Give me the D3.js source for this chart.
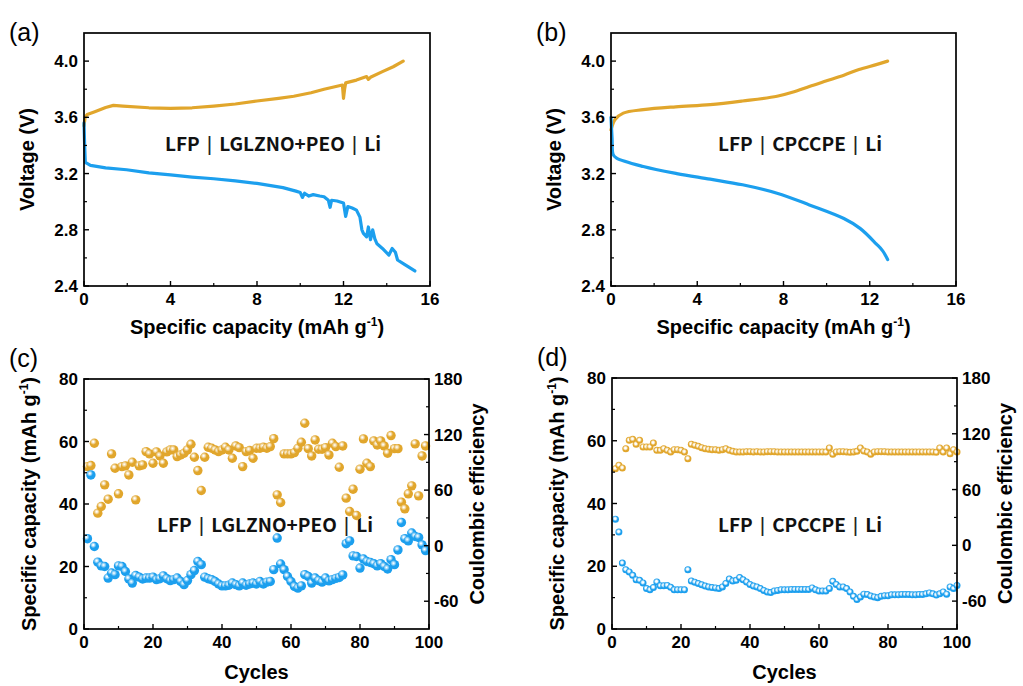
<!DOCTYPE html>
<html><head><meta charset="utf-8">
<script src="https://cdn.jsdelivr.net/npm/d3@7"></script>
<style>
body{margin:0;background:#fff;}
svg text{font-family:"Liberation Sans",Arial,sans-serif;}
</style>
</head><body>
<svg id="chart" width="1023" height="686"></svg>
<script>
// ---------- DATA ----------
// (a) LFP | LGLZNO+PEO | Li  voltage profiles [capacity, voltage]
const aCharge = [[0,3.54],[0.05,3.60],[0.15,3.62],[0.5,3.64],[1.0,3.67],[1.36,3.685],[1.8,3.68],[3.0,3.668],[4.0,3.664],[5.0,3.668],[6.0,3.68],[7.0,3.695],[8.0,3.716],[9.0,3.735],[9.7,3.75],[10.5,3.775],[11.1,3.80],[11.8,3.825],[11.95,3.83],[12.0,3.735],[12.05,3.80],[12.1,3.845],[12.6,3.865],[13.07,3.89],[13.15,3.87],[13.25,3.885],[13.8,3.925],[14.3,3.96],[14.76,4.0]];
const aDischarge = [[0,3.56],[0.03,3.40],[0.06,3.28],[0.3,3.258],[1.0,3.24],[1.97,3.227],[3.0,3.205],[4.0,3.19],[5.0,3.175],[6.0,3.163],[7.0,3.148],[8.0,3.13],[9.2,3.10],[9.8,3.075],[10.0,3.065],[10.1,3.03],[10.2,3.06],[10.4,3.04],[10.6,3.05],[10.9,3.04],[11.1,3.035],[11.3,3.01],[11.38,2.96],[11.45,3.01],[11.7,3.005],[12.0,2.99],[12.1,2.895],[12.2,2.965],[12.4,2.955],[12.6,2.94],[12.76,2.89],[12.85,2.80],[12.92,2.775],[13.07,2.75],[13.15,2.82],[13.25,2.73],[13.35,2.80],[13.45,2.735],[13.55,2.70],[13.8,2.667],[14.1,2.62],[14.25,2.667],[14.4,2.64],[14.5,2.585],[14.8,2.555],[15.3,2.507]];
// (b) LFP | CPCCPE | Li
const bCharge = [[0,3.51],[0.19,3.585],[0.57,3.63],[1.5,3.655],[3.0,3.675],[4.6,3.69],[6.1,3.716],[7.7,3.75],[8.45,3.78],[9.2,3.82],[10.0,3.86],[10.8,3.90],[11.5,3.94],[12.3,3.975],[12.83,4.0]];
const bDischarge = [[0,3.60],[0.05,3.45],[0.1,3.335],[0.26,3.31],[1.5,3.25],[3.05,3.20],[4.6,3.16],[6.1,3.12],[7.7,3.06],[9.2,2.977],[10.8,2.88],[11.55,2.81],[12.3,2.70],[12.6,2.65],[12.83,2.588]];

// (c) cycling, LGLZNO+PEO
const cCycles = d3.range(1,100);
const cCapacity = [28.9,49.3,26.4,21.4,20.2,20.0,16.3,17.9,17.4,20.2,20.0,18.4,16.0,14.7,17.1,16.6,16.0,16.3,16.3,16.6,15.8,16.1,17.0,16.1,15.5,15.8,16.3,15.2,14.2,15.5,17.4,18.7,21.6,20.6,16.6,16.1,15.8,15.2,14.4,13.8,13.8,14.0,14.7,14.2,13.8,14.7,14.0,14.4,14.7,14.4,15.2,14.4,15.0,15.2,19.0,29.1,20.8,19.0,16.8,15.2,13.6,13.1,13.8,17.4,16.8,14.7,16.3,15.5,15.0,16.3,15.4,15.8,16.2,16.5,17.3,27.3,28.2,23.4,23.2,19.5,22.4,21.6,21.3,20.9,20.2,20.9,20.0,19.2,22.2,20.6,25.3,34.1,28.9,28.2,30.7,29.6,29.3,26.9,25.1];
const cEfficiency = [85.4,86.5,110.6,35.1,42.3,65.7,50.2,99.1,83.6,56.0,85.4,86.2,76.4,90.1,49.5,86.2,87.2,101.6,99.1,89.0,101.3,96.9,89.0,101.3,103.4,103.4,96.2,98.0,99.8,103.4,109.5,95.5,81.1,59.6,95.5,106.3,105.2,103.4,101.6,103.4,106.3,103.4,94.4,107.7,105.9,85.4,101.6,102.7,94.4,105.2,105.2,106.3,105.2,107.0,115.6,54.9,46.6,99.1,99.1,99.1,100.5,105.2,111.7,132.2,104.8,96.9,114.2,104.1,104.1,105.9,98.0,110.6,107.0,84.7,107.7,51.3,36.9,61.0,32.6,82.6,115.3,89.0,85.4,113.1,108.8,113.1,107.7,99.8,118.9,104.8,104.8,47.0,39.8,56.0,64.6,109.9,53.8,96.9,107.7];

// (d) cycling, CPCCPE
const dCycles = d3.range(1,101);
const dCapacity = [35.0,30.9,21.0,18.9,18.2,17.1,15.7,15.5,14.7,12.9,12.5,13.2,15.0,13.8,13.8,13.9,13.3,12.5,12.5,12.5,12.5,18.9,15.3,14.9,14.5,14.1,13.7,13.4,13.2,13.1,12.9,13.4,14.5,15.9,15.3,15.5,16.4,15.7,15.0,14.2,13.7,13.4,12.9,12.3,11.8,11.6,12.1,12.3,12.5,12.5,12.5,12.6,12.6,12.6,12.6,12.6,12.6,13.1,12.5,12.1,12.1,12.1,12.9,15.2,14.2,13.4,13.4,12.9,11.8,10.4,9.4,10.2,11.1,11.0,10.5,10.2,10.0,10.4,10.6,10.6,10.9,10.9,10.9,11.0,11.0,11.0,10.9,10.9,11.0,11.0,11.2,11.5,11.2,10.8,11.2,11.8,11.1,13.4,12.9,13.9];
const dEfficiency = [82.5,86.1,83.2,104.0,113.0,114.0,108.7,113.0,105.8,105.8,105.8,110.0,102.2,102.2,104.0,102.2,100.4,102.9,102.9,102.2,100.4,93.2,108.7,107.6,106.5,105.1,104.0,103.3,102.9,102.9,102.2,102.9,104.0,102.2,101.1,100.4,100.4,100.4,100.8,100.8,100.4,100.8,100.4,100.4,100.8,100.8,100.8,100.4,100.4,100.4,100.4,100.4,100.4,100.4,100.4,100.4,100.4,100.4,100.4,100.4,100.4,100.4,104.7,98.0,100.4,100.8,100.8,100.4,100.0,100.4,101.1,104.7,101.5,100.4,98.0,100.4,100.8,100.8,100.8,100.4,100.4,100.4,100.4,100.4,100.4,100.4,100.4,100.4,100.4,100.4,100.4,100.4,100.4,100.0,104.7,100.4,104.7,98.5,102.9,100.4];

const voltTicks = [2.4,2.8,3.2,3.6,4.0];
const capTicks = [0,4,8,12,16];
const cycleTicks = [0,20,40,60,80,100];
const capLeftTicks = [0,20,40,60,80];
const ceTicks = [-60,0,60,120,180];

const ORANGE = "#E1A62C";
const BLUE = "#1C9FEE";

// ---------- DRAW ----------
const svg = d3.select("#chart");
const defs = svg.append("defs");
function grad(id, col, cx, cy, s1, s2){
  const g = defs.append("radialGradient").attr("id", id).attr("cx",cx).attr("cy",cy).attr("r","60%");
  g.append("stop").attr("offset","0%").attr("stop-color","#fff");
  g.append("stop").attr("offset", s1).attr("stop-color","#fff").attr("stop-opacity",0.9);
  g.append("stop").attr("offset", s2).attr("stop-color", col);
  g.append("stop").attr("offset","100%").attr("stop-color", col);
}
grad("gO1", ORANGE, "38%", "34%", "8%", "55%"); grad("gB1", BLUE, "38%", "34%", "8%", "55%");
grad("gO2", ORANGE, "45%", "42%", "22%", "62%"); grad("gB2", BLUE, "45%", "42%", "22%", "62%");

const TICKFS = 17, TITLEFS = 20;

function frame(g, L, R, T, B){
  g.append("rect").attr("x",L).attr("y",T).attr("width",R-L).attr("height",B-T)
    .attr("fill","none").attr("stroke","#000").attr("stroke-width",1.7);
}
function xAxis(g, x, B, ticks, minors){
  ticks.forEach(t=>{
    g.append("line").attr("x1",x(t)).attr("x2",x(t)).attr("y1",B).attr("y2",B-5).attr("stroke","#000").attr("stroke-width",1.4);
    g.append("text").attr("x",x(t)).attr("y",B+19).attr("text-anchor","middle")
      .attr("font-size",TICKFS).attr("font-weight","bold").text(d3.format("~g")(t));
  });
  minors.forEach(t=>{
    g.append("line").attr("x1",x(t)).attr("x2",x(t)).attr("y1",B).attr("y2",B-3).attr("stroke","#000").attr("stroke-width",1.2);
  });
}
function yAxisLeft(g, y, L, ticks, minors, fmt){
  ticks.forEach(t=>{
    g.append("line").attr("x1",L).attr("x2",L+5).attr("y1",y(t)).attr("y2",y(t)).attr("stroke","#000").attr("stroke-width",1.4);
    g.append("text").attr("x",L-6).attr("y",y(t)+6).attr("text-anchor","end")
      .attr("font-size",TICKFS).attr("font-weight","bold").text(fmt(t));
  });
  minors.forEach(t=>{
    g.append("line").attr("x1",L).attr("x2",L+3).attr("y1",y(t)).attr("y2",y(t)).attr("stroke","#000").attr("stroke-width",1.2);
  });
}
function yAxisRight(g, y, R, ticks, minors){
  ticks.forEach(t=>{
    g.append("line").attr("x1",R).attr("x2",R-5).attr("y1",y(t)).attr("y2",y(t)).attr("stroke","#000").attr("stroke-width",1.4);
    g.append("text").attr("x",R+5).attr("y",y(t)+6).attr("text-anchor","start")
      .attr("font-size",TICKFS).attr("font-weight","bold").text(t);
  });
  minors.forEach(t=>{
    g.append("line").attr("x1",R).attr("x2",R-3).attr("y1",y(t)).attr("y2",y(t)).attr("stroke","#000").attr("stroke-width",1.2);
  });
}
function capTitle(t){
  t.append("tspan").text("Specific capacity (mAh g");
  t.append("tspan").attr("dy",-8).attr("font-size",12).text("-1");
  t.append("tspan").attr("dy",8).text(")");
}
function capTitleX(g, cx, yb){
  capTitle(g.append("text").attr("x",cx).attr("y",yb).attr("text-anchor","middle")
    .attr("font-size",TITLEFS).attr("font-weight","bold"));
}
function capTitleY(g, cx, cy){
  capTitle(g.append("text").attr("transform",`translate(${cx},${cy}) rotate(-90)`).attr("text-anchor","middle")
    .attr("font-size",TITLEFS).attr("font-weight","bold"));
}
function rotTitle(g, cx, cy, s){
  g.append("text").attr("transform",`translate(${cx},${cy}) rotate(-90)`).attr("text-anchor","middle")
    .attr("font-size",TITLEFS).attr("font-weight","bold").text(s);
}
function label(g, x, y, s){
  g.append("text").attr("x",x).attr("y",y).attr("font-size",25).text(s);
}
function note(g, cx, cy, parts){
  const t = g.append("text").attr("x",cx).attr("y",cy+7).attr("text-anchor","middle")
    .style("font-family","'Noto Sans CJK SC','Noto Sans',sans-serif")
    .attr("font-size",19).attr("font-weight","bold").attr("fill","#111");
  parts.forEach((p,i)=>{
    if(i>0) t.append("tspan").attr("dx",7).style("font-family","'Liberation Sans',sans-serif")
      .attr("font-size",21).attr("font-weight","normal").attr("fill","#222").text("|");
    t.append("tspan").attr("dx", i>0 ? 7 : 0).text(p);
  });
}

function voltPanel(L,R,T,B, charge, discharge, tag, noteParts, noteX, curve){
  const g = svg.append("g");
  const x = d3.scaleLinear().domain([0,16]).range([L,R]);
  const y = d3.scaleLinear().domain([2.4,4.2]).range([B,T]);
  const line = d3.line().x(d=>x(d[0])).y(d=>y(d[1])).curve(curve);
  g.append("path").datum(charge).attr("d",line).attr("fill","none").attr("stroke",ORANGE).attr("stroke-width",3.2).attr("stroke-linejoin","round").attr("stroke-linecap","round");
  g.append("path").datum(discharge).attr("d",line).attr("fill","none").attr("stroke",BLUE).attr("stroke-width",3.2).attr("stroke-linejoin","round").attr("stroke-linecap","round");
  frame(g,L,R,T,B);
  xAxis(g,x,B,capTicks,[2,6,10,14]);
  yAxisLeft(g,y,L,voltTicks,[2.6,3.0,3.4,3.8],d3.format(".1f"));
  capTitleX(g,(L+R)/2,B+48);
  rotTitle(g,L-50,(T+B)/2,"Voltage (V)");
  label(g,L-75,T+8,tag);
  note(g,noteX,144,noteParts);
}
voltPanel(84,430,33,286,aCharge,aDischarge,"(a)",["LFP","LGLZNO+PEO","Li"],273,d3.curveLinear);
voltPanel(611,956,33,286,bCharge,bDischarge,"(b)",["LFP","CPCCPE","Li"],800,d3.curveCatmullRom.alpha(0.5));

function cyclePanel(L,R,T,B, cyc, cap, ce, tag, noteParts, noteX, r, gO, gB){
  const g = svg.append("g");
  const x = d3.scaleLinear().domain([0,100]).range([L,R]);
  const yl = d3.scaleLinear().domain([0,80]).range([B,T]);
  const yr = d3.scaleLinear().domain([-90,180]).range([B,T]);
  note(g,noteX,525,noteParts);
  g.selectAll(".o").data(cyc).enter().append("circle")
    .attr("cx",(d)=>x(d)).attr("cy",(d,i)=>yr(ce[i])).attr("r",r).attr("fill",`url(#${gO})`);
  g.selectAll(".b").data(cyc).enter().append("circle")
    .attr("cx",(d)=>x(d)).attr("cy",(d,i)=>yl(cap[i])).attr("r",r).attr("fill",`url(#${gB})`);
  frame(g,L,R,T,B);
  xAxis(g,x,B,cycleTicks,[10,30,50,70,90]);
  yAxisLeft(g,yl,L,capLeftTicks,[10,30,50,70],d3.format("d"));
  yAxisRight(g,yr,R,ceTicks,[-30,30,90,150]);
  g.append("text").attr("x",(L+R)/2).attr("y",B+50).attr("text-anchor","middle")
    .attr("font-size",TITLEFS).attr("font-weight","bold").text("Cycles");
  capTitleY(g,L-48,(T+B)/2);
  rotTitle(g,R+55,(T+B)/2,"Coulombic efficiency");
  label(g,L-75,T-12,tag);
}
cyclePanel(84,429,379,629,cCycles,cCapacity,cEfficiency,"(c)",["LFP","LGLZNO+PEO","Li"],265,4.7,"gO1","gB1");
cyclePanel(612,957,378,629,dCycles,dCapacity,dEfficiency,"(d)",["LFP","CPCCPE","Li"],800,3.5,"gO2","gB2");
</script>
</body></html>
